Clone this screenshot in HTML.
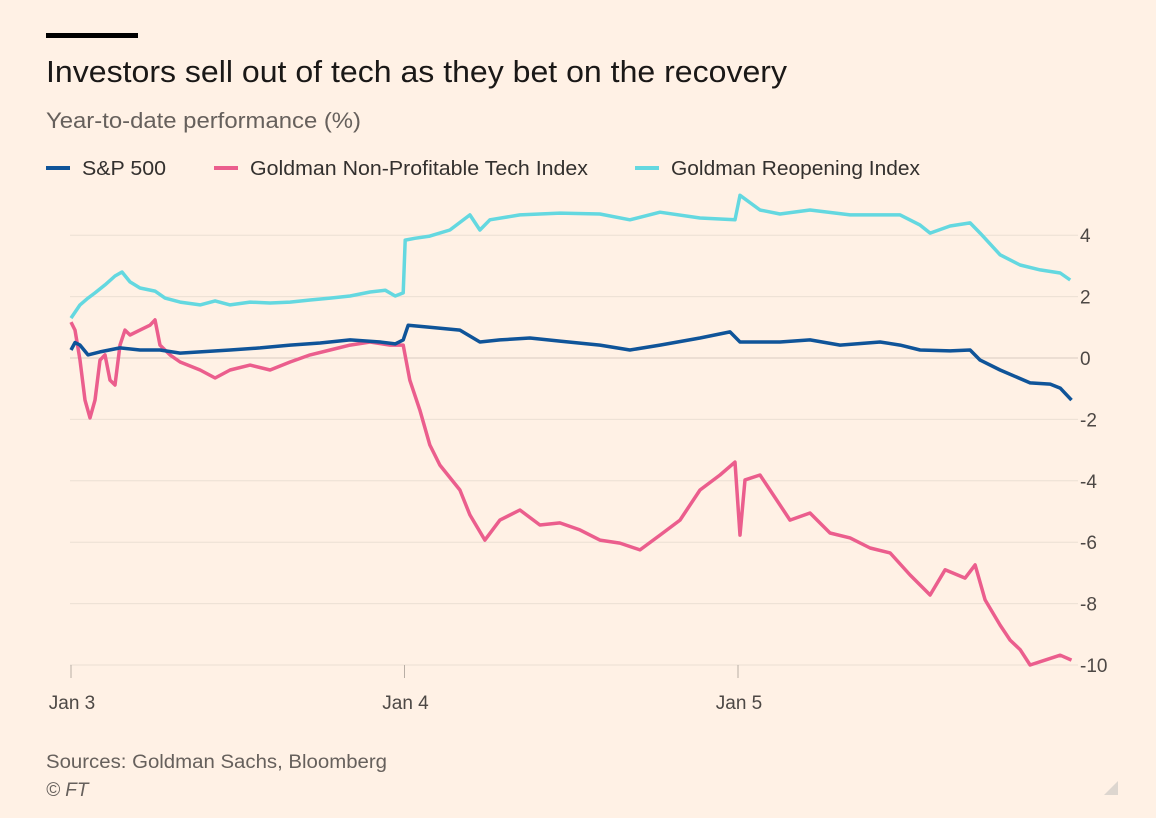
<!DOCTYPE html>
<html><head><meta charset="utf-8"><style>
body{margin:0;background:#fff1e5;font-family:"Liberation Sans",sans-serif;}
#wrap{position:relative;width:1156px;height:818px;overflow:hidden;background:#fff1e5;}
</style></head><body>
<div id="wrap">
<svg id="svg" width="1156" height="818">
<rect x="46" y="33" width="92" height="5" fill="#000"/>
<text x="46" y="82" font-size="31" fill="#1a1817" textLength="741" lengthAdjust="spacingAndGlyphs">Investors sell out of tech as they bet on the recovery</text>
<text x="46" y="128" font-size="22" fill="#66605c" textLength="315" lengthAdjust="spacingAndGlyphs">Year-to-date performance (%)</text>
<g>
<g><line x1="46" y1="168" x2="70" y2="168" stroke="#0f5499" stroke-width="4"/><text x="82" y="175" font-size="20" fill="#33302e" textLength="84" lengthAdjust="spacingAndGlyphs">S&amp;P 500</text></g>
<g><line x1="214" y1="168" x2="238" y2="168" stroke="#eb5e8d" stroke-width="4"/><text x="250" y="175" font-size="20" fill="#33302e" textLength="338" lengthAdjust="spacingAndGlyphs">Goldman Non-Profitable Tech Index</text></g>
<g><line x1="635" y1="168" x2="659" y2="168" stroke="#64d8e0" stroke-width="4"/><text x="671" y="175" font-size="20" fill="#33302e" textLength="249" lengthAdjust="spacingAndGlyphs">Goldman Reopening Index</text></g>
</g>
<g id="grid"></g><g id="xax"></g><g id="series"></g>
<text x="46" y="768" font-size="19" fill="#66605c" textLength="341" lengthAdjust="spacingAndGlyphs">Sources: Goldman Sachs, Bloomberg</text>
<text x="46" y="796" font-size="19" font-style="italic" fill="#66605c">© FT</text>
<polygon points="1118,781 1118,795 1104,795" fill="#ddd6cf"/>
</svg>
</div>
<script>
const yTicks=[4,2,0,-2,-4,-6,-8,-10];
const xTicks=[0,1,2];
const xTickLabels=["Jan 3","Jan 4","Jan 5"];
const spTimes=[0,.012,.027,.051,.087,.147,.207,.267,.327,.387,.477,.567,.657,.747,.837,.927,.972,.996,1.011,1.076,1.166,1.226,1.286,1.376,1.466,1.586,1.676,1.766,1.886,1.976,2.006,2.126,2.216,2.306,2.426,2.486,2.546,2.636,2.696,2.726,2.786,2.876,2.936,2.966,3.0];
const spValues=[.26,.5,.42,.1,.2,.33,.26,.26,.16,.2,.26,.33,.42,.49,.59,.52,.46,.59,1.07,1.0,.91,.52,.59,.65,.55,.42,.26,.42,.65,.85,.52,.52,.59,.42,.52,.42,.26,.23,.26,-.07,-.39,-.81,-.85,-.98,-1.37];
const techTimes=[0,.012,.027,.042,.057,.072,.087,.102,.117,.132,.147,.162,.177,.207,.237,.252,.267,.297,.327,.387,.432,.477,.537,.597,.657,.717,.777,.837,.897,.957,.996,1.016,1.046,1.076,1.106,1.166,1.196,1.241,1.286,1.346,1.406,1.466,1.526,1.586,1.646,1.706,1.766,1.826,1.886,1.946,1.991,2.006,2.021,2.066,2.096,2.156,2.216,2.276,2.336,2.396,2.456,2.516,2.576,2.621,2.681,2.711,2.741,2.786,2.816,2.846,2.876,2.921,2.966,3.0];
const techValues=[1.17,.91,-.07,-1.37,-1.95,-1.37,-.07,.1,-.72,-.88,.42,.91,.75,.91,1.07,1.24,.42,.1,-.13,-.39,-.65,-.39,-.23,-.39,-.13,.1,.26,.42,.52,.42,.42,-.72,-1.69,-2.83,-3.49,-4.3,-5.11,-5.93,-5.28,-4.95,-5.44,-5.37,-5.6,-5.93,-6.03,-6.25,-5.77,-5.28,-4.3,-3.81,-3.39,-5.77,-3.97,-3.81,-4.3,-5.28,-5.05,-5.7,-5.86,-6.19,-6.35,-7.07,-7.72,-6.9,-7.17,-6.74,-7.88,-8.7,-9.19,-9.5,-10,-9.84,-9.68,-9.84];
const reopTimes=[0,.027,.051,.072,.102,.132,.153,.177,.207,.252,.282,.327,.387,.432,.477,.537,.597,.657,.717,.777,.837,.897,.942,.972,.996,1.002,1.031,1.076,1.136,1.196,1.226,1.256,1.346,1.466,1.586,1.676,1.766,1.886,1.991,2.006,2.066,2.126,2.216,2.336,2.426,2.486,2.546,2.576,2.636,2.696,2.726,2.786,2.846,2.906,2.966,2.996];
const reopValues=[1.3,1.73,1.95,2.12,2.38,2.67,2.8,2.48,2.28,2.18,1.95,1.82,1.73,1.86,1.73,1.82,1.79,1.82,1.89,1.95,2.02,2.15,2.21,2.02,2.12,3.84,3.9,3.97,4.17,4.66,4.17,4.5,4.66,4.72,4.69,4.5,4.75,4.56,4.5,5.3,4.82,4.69,4.82,4.66,4.66,4.66,4.33,4.07,4.3,4.4,4.07,3.36,3.03,2.87,2.77,2.54];
const NS="http://www.w3.org/2000/svg";
const X=d=>71+d*333.5;
const Y=v=>358-v*30.7;
function mk(t,a,p){const e=document.createElementNS(NS,t);for(const k in a)e.setAttribute(k,a[k]);p.appendChild(e);return e;}
const grid=document.getElementById('grid');
yTicks.forEach(v=>{
  const l=mk('line',{x1:70,x2:1078,y1:Y(v),y2:Y(v),stroke:v===0?'#d9ccc1':'#ebdfd4','stroke-width':1},grid);
  
  
  const t=mk('text',{x:1080,y:Y(v)+7,'font-size':19,fill:'#4d4845'},grid);
  t.textContent=v;
  
  
});
const xax=document.getElementById('xax');
xTicks.forEach((d,i)=>{
  const l=mk('line',{x1:X(d),x2:X(d),y1:665,y2:678,stroke:'#b8aea5','stroke-width':1},xax);
  
  
  const t=mk('text',{x:X(d)+1,y:709,'font-size':19,fill:'#4d4845','text-anchor':'middle'},xax);
  t.textContent=xTickLabels[i];
  
  
});
const ser=document.getElementById('series');
function line(ts,vs,col,name){
  const d=ts.map((t,i)=>(i?'L':'M')+X(t).toFixed(1)+','+Y(vs[i]).toFixed(1)).join('');
  const p=mk('path',{d:d,fill:'none',stroke:col,'stroke-width':3.5,'stroke-linejoin':'round'},ser);
  
  
}
line(reopTimes,reopValues,'#64d8e0','reopening-line');
line(techTimes,techValues,'#eb5e8d','nonprofitable-tech-line');
line(spTimes,spValues,'#0f5499','sp500-line');
</script>
</body></html>
